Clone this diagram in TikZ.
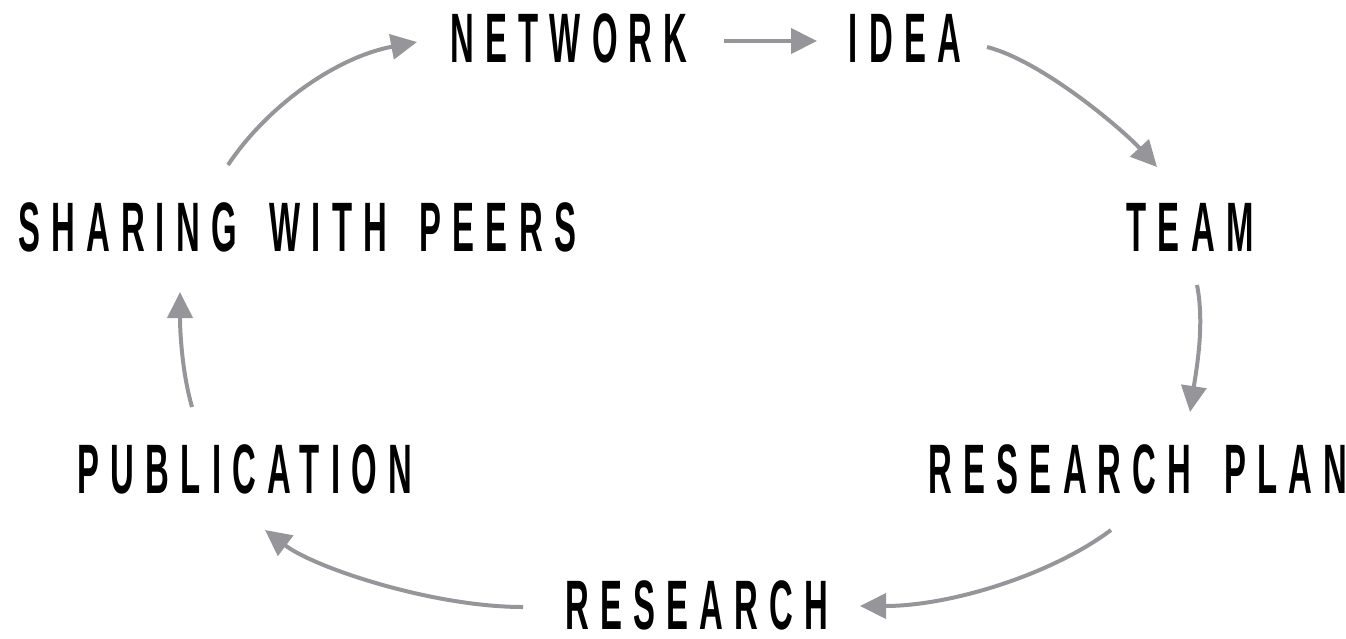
\documentclass[tikz,border=0pt]{standalone}
\usepackage{fontspec}
\setmainfont{Liberation Sans}[FakeStretch=0.47, LetterSpace=16, WordSpace=1.6]
\usetikzlibrary{arrows.meta,calc}

\definecolor{arrowgray}{RGB}{150,150,154}

\tikzset{
  step label/.style={inner sep=0pt, font=\fontsize{70}{70}\selectfont\bfseries},
  cycle arrow/.style={draw=arrowgray, line width=4pt,
    -{Triangle[length=26pt, width=25pt]}, arrowgray},
}

\begin{document}
\begin{tikzpicture}[x=1pt, y=-1pt, >=Stealth]

        % Canvas
        \useasboundingbox (0,0) rectangle (1346,638);

        % Steps of the cycle
        \node[step label] (network) at (569,38) {NETWORK};
        \node[step label] (idea) at (905,38) {IDEA};
        \node[step label] (team) at (1190,227) {TEAM};
        \node[step label] (plan) at (1138,469) {RESEARCH PLAN};
        \node[step label] (research) at (697,605) {RESEARCH};
        \node[step label] (publication) at (245,469) {PUBLICATION};
        \node[step label] (sharing) at (297,227) {SHARING WITH PEERS};

        % Arrows between the steps
        \draw[cycle arrow] ($(network.center)+(155,3)$) -- ($(idea.center)+(-88,3)$);
        \draw[cycle arrow] ($(idea.center)+(82,9)$)
            .. controls +(55,14) and +(-35,-38) .. ($(team.center)+(-33,-60)$);
        \draw[cycle arrow] ($(team.center)+(7,58)$)
            .. controls +(8,40) and +(6,-40) .. ($(plan.center)+(52,-57)$);
        \draw[cycle arrow] ($(plan.center)+(-27,61)$)
            .. controls +(-60,45) and +(90,0) .. ($(research.center)+(163,1)$);
        \draw[cycle arrow] ($(research.center)+(-174,2)$)
            .. controls +(-90,0) and +(50,38) .. ($(publication.center)+(20,61)$);
        \draw[cycle arrow] ($(publication.center)+(-53,-62)$)
            .. controls +(-10,-35) and +(0,40) .. ($(sharing.center)+(-117,65)$);
        \draw[cycle arrow] ($(sharing.center)+(-69,-62)$)
            .. controls +(40,-60) and +(-80,15) .. ($(network.center)+(-152,4)$);

      \end{tikzpicture}
\end{document}
